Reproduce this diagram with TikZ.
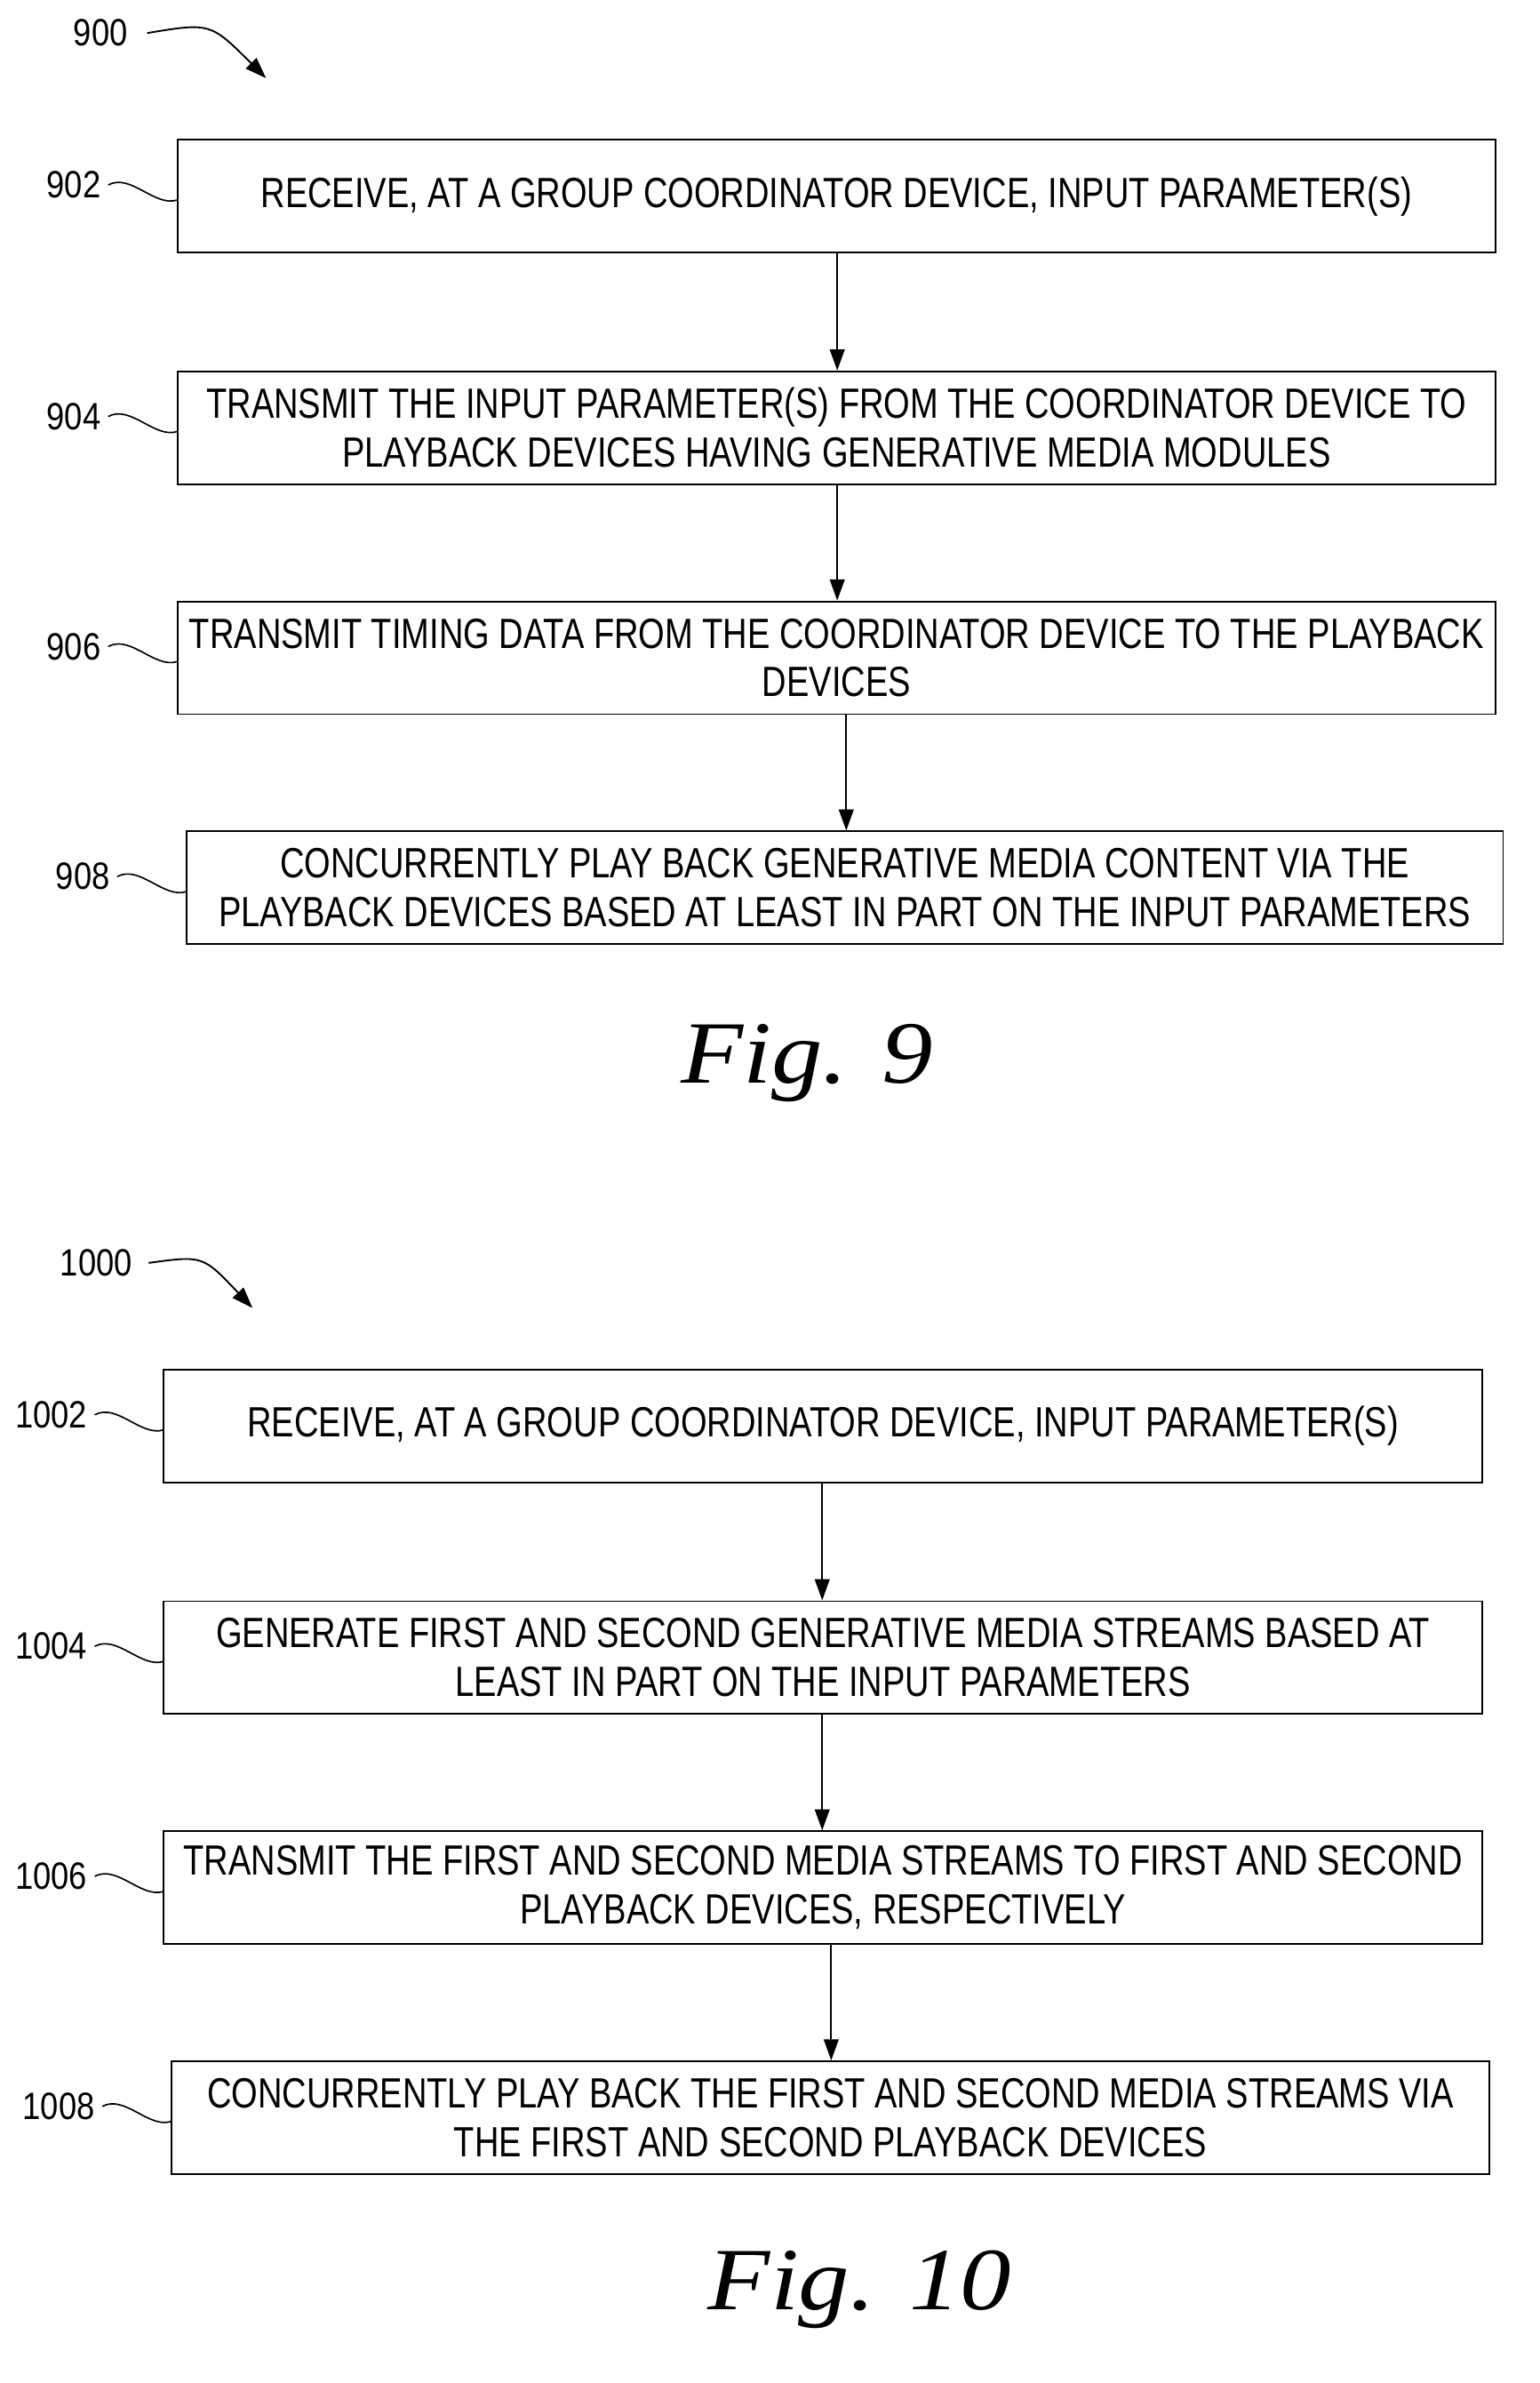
\documentclass[tikz,border=0pt]{standalone}
\usepackage{fontspec}
\setmainfont{Liberation Sans}[FakeStretch=0.8]
\newfontfamily\figfont{Liberation Serif}[FakeStretch=1.15]
\usetikzlibrary{arrows.meta}
\begin{document}
\begin{tikzpicture}[x=0.025cm,y=-0.025cm,
 box/.style={draw,line width=0.8pt,inner sep=0pt,align=center,font=\fontsize{20}{23}\selectfont},
 lab/.style={font=\fontsize{18}{20}\selectfont\addfontfeatures{FakeStretch=0.85}},
 arr/.style={-{Triangle[length=10pt,width=7pt]},line width=0.8pt},
 sq/.style={line width=0.7pt},
 fig/.style={font=\figfont\itshape\fontsize{42}{48}\selectfont}]
\useasboundingbox (0,0) rectangle (1024,1585);
\def\bx#1#2#3#4#5{\node[box,minimum width={(#3-#2)*0.025cm},minimum height={75*0.025cm}] (#1) at ({(#2+#3)/2},{#4+37.5}) {#5};
 \node[lab,anchor=east] (l#1) at ({#2-46},{#4+30}) {#1};
 \draw[sq] (l#1.east) .. controls +(15,-8) and +(-15,5) .. ({#2},{#4+40});}
\bx{902}{118}{995}{93}{RECEIVE, AT A GROUP COORDINATOR DEVICE, INPUT PARAMETER(S)}
\bx{904}{118}{995}{247}{TRANSMIT THE INPUT PARAMETER(S) FROM THE COORDINATOR DEVICE TO\\PLAYBACK DEVICES HAVING GENERATIVE MEDIA MODULES}
\bx{906}{118}{995}{400}{TRANSMIT TIMING DATA FROM THE COORDINATOR DEVICE TO THE PLAYBACK\\DEVICES}
\bx{908}{124}{1000}{553}{CONCURRENTLY PLAY BACK GENERATIVE MEDIA CONTENT VIA THE\\PLAYBACK DEVICES BASED AT LEAST IN PART ON THE INPUT PARAMETERS}
\bx{1002}{109}{986}{911}{RECEIVE, AT A GROUP COORDINATOR DEVICE, INPUT PARAMETER(S)}
\bx{1004}{109}{986}{1065}{GENERATE FIRST AND SECOND GENERATIVE MEDIA STREAMS BASED AT\\LEAST IN PART ON THE INPUT PARAMETERS}
\bx{1006}{109}{986}{1218}{TRANSMIT THE FIRST AND SECOND MEDIA STREAMS TO FIRST AND SECOND\\PLAYBACK DEVICES, RESPECTIVELY}
\bx{1008}{114}{991}{1371}{CONCURRENTLY PLAY BACK THE FIRST AND SECOND MEDIA STREAMS VIA\\THE FIRST AND SECOND PLAYBACK DEVICES}
\draw[arr] (902.south -| 557,0) -- (904.north -| 557,0);
\draw[arr] (904.south -| 557,0) -- (906.north -| 557,0);
\draw[arr] (906.south -| 563,0) -- (908.north -| 563,0);
\draw[arr] (1002.south -| 547,0) -- (1004.north -| 547,0);
\draw[arr] (1004.south -| 547,0) -- (1006.north -| 547,0);
\draw[arr] (1006.south -| 553,0) -- (1008.north -| 553,0);
\node[lab] (n900) at (67,22) {900};
\coordinate (e900) at (177,52);
\draw[arr] (n900.east) ++(8,0) .. controls (140,15) .. (e900);
\node[lab] (n1000) at (64,840) {1000};
\coordinate (e1000) at (168,870);
\draw[arr] (n1000.east) ++(6,0) .. controls (135,835) .. (e1000);
\node[fig] (f9) at (537,707) {Fig. 9};
\node[fig] (f10) at (572,1523) {Fig. 10};
\end{tikzpicture}
\end{document}
